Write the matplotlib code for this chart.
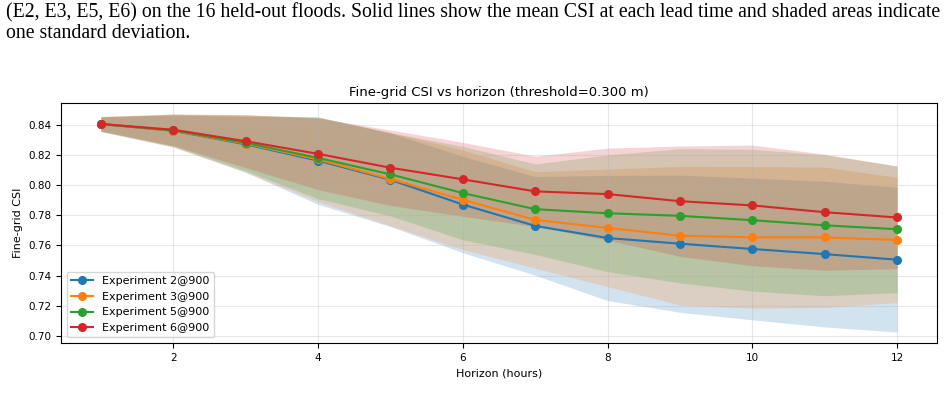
import matplotlib
matplotlib.use("Agg")
import matplotlib.pyplot as plt
import numpy as np

horizons = [1, 2, 3, 4, 5, 6, 7, 8, 9, 10, 11, 12]
labels = ["Experiment 2@900", "Experiment 3@900", "Experiment 5@900", "Experiment 6@900"]

mean_e2 = [0.8405, 0.8360, 0.8270, 0.8162, 0.8035, 0.7871, 0.7729, 0.7649, 0.7611, 0.7576, 0.7542, 0.7505]
mean_e3 = [0.8405, 0.8360, 0.8275, 0.8170, 0.8040, 0.7902, 0.7769, 0.7716, 0.7664, 0.7653, 0.7653, 0.7636]
mean_e5 = [0.8405, 0.8362, 0.8280, 0.8180, 0.8071, 0.7947, 0.7840, 0.7813, 0.7796, 0.7767, 0.7733, 0.7707]
mean_e6 = [0.8405, 0.8367, 0.8291, 0.8207, 0.8115, 0.8038, 0.7958, 0.7940, 0.7893, 0.7865, 0.7820, 0.7785]

std_e2 = [0.0050, 0.0105, 0.0185, 0.0290, 0.0310, 0.0320, 0.0327, 0.0415, 0.0455, 0.0470, 0.0483, 0.0480]
std_e3 = [0.0050, 0.0110, 0.0190, 0.0280, 0.0310, 0.0330, 0.0320, 0.0390, 0.0460, 0.0470, 0.0466, 0.0415]
std_e5 = [0.0047, 0.0105, 0.0185, 0.0270, 0.0275, 0.0310, 0.0300, 0.0387, 0.0445, 0.0470, 0.0467, 0.0420]
std_e6 = [0.0047, 0.0105, 0.0175, 0.0237, 0.0250, 0.0245, 0.0233, 0.0305, 0.0366, 0.0400, 0.0385, 0.0340]

means = [mean_e2, mean_e3, mean_e5, mean_e6]
stds = [std_e2, std_e3, std_e5, std_e6]
colors = ["#1f77b4", "#ff7f0e", "#2ca02c", "#d62728"]

caption1 = ("(E2, E3, E5, E6) on the 16 held-out floods. Solid lines show the mean CSI at each lead time "
            "and shaded areas indicate")
caption2 = "one standard deviation."

fig = plt.figure(figsize=(9.48, 3.99), dpi=100)
ax = fig.add_axes([0.0643, 0.1404, 0.9241, 0.6015])

x = np.array(horizons)
for m, s, c, lab in zip(means, stds, colors, labels):
    m = np.array(m)
    s = np.array(s)
    ax.plot(x, m, marker="o", color=c, label=lab, linewidth=1.5, markersize=5.5)
    ax.fill_between(x, m - s, m + s, color=c, alpha=0.2, linewidth=0)

ax.set_title("Fine-grid CSI vs horizon (threshold=0.300 m)", fontsize=9.5, pad=5)
ax.set_xlabel("Horizon (hours)", fontsize=8)
ax.set_ylabel("Fine-grid CSI", fontsize=8)
ax.tick_params(labelsize=7.5)
ax.grid(True, alpha=0.3)
ax.legend(loc="lower left", fontsize=8)

fig.text(0.006, 0.967, caption1, fontsize=14.2, family="Liberation Serif", va="center", ha="left")
fig.text(0.006, 0.917, caption2, fontsize=14.2, family="Liberation Serif", va="center", ha="left")

fig.savefig("out.png", dpi=100)
